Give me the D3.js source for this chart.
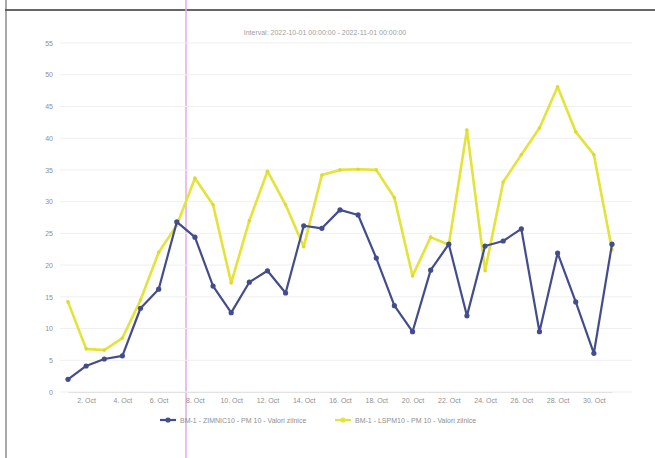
<!DOCTYPE html>
<html><head><meta charset="utf-8">
<script src="https://cdn.jsdelivr.net/npm/d3@7/dist/d3.min.js"></script>
<style>body{margin:0;background:#fff}svg{display:block}</style>
</head><body>
<script>
const days = d3.range(1, 32);
const seriesBlue = [2.0,4.1,5.2,5.7,13.2,16.2,26.8,24.4,16.7,12.5,17.3,19.1,15.6,26.2,25.8,28.7,27.9,21.1,13.6,9.5,19.2,23.3,12.0,23.0,23.8,25.7,9.5,21.9,14.2,6.1,23.3];
const seriesYellow = [14.2,6.8,6.6,8.5,14.5,22.0,26.3,33.7,29.5,17.2,27.0,34.8,29.5,22.9,34.2,35.0,35.1,35.0,30.6,18.3,24.4,23.2,41.3,19.1,33.1,37.4,41.6,48.1,41.0,37.4,22.4];
const yTicks = [0,5,10,15,20,25,30,35,40,45,50,55];
const xTickDays = [2,4,6,8,10,12,14,16,18,20,22,24,26,28,30];
const titleText = "Interval: 2022-10-01 00:00:00 - 2022-11-01 00:00:00";
const legendNames = ["BM-1 - ZIMNIC10 - PM 10 - Valori zilnice", "BM-1 - LSPM10 - PM 10 - Valori zilnice"];

const W = 655, H = 458;
const svg = d3.select("body").append("svg").attr("width", W).attr("height", H);

// scan frame and artefact line
svg.append("line").attr("x1",5).attr("x2",655).attr("y1",10).attr("y2",10).attr("stroke","#333").attr("stroke-width",1.5);
svg.append("line").attr("x1",6).attr("x2",6).attr("y1",0).attr("y2",458).attr("stroke","#555").attr("stroke-width",1);
svg.append("line").attr("x1",186).attr("x2",186).attr("y1",0).attr("y2",458).attr("stroke","#e6a8e6").attr("stroke-width",1.5);

const x = d3.scaleLinear().domain([1, 31]).range([68, 612]);
const y = d3.scaleLinear().domain([0, 55]).range([392, 43]);

// grid
svg.append("g").selectAll("line").data(yTicks).join("line")
  .attr("x1", 60).attr("x2", 632).attr("y1", d=>y(d)).attr("y2", d=>y(d))
  .attr("stroke", "#efefef").attr("stroke-width", 1);

// y axis labels
const yAxis = d3.axisLeft(y).tickValues(yTicks).tickSize(0).tickPadding(5);
const gy = svg.append("g").attr("transform","translate(58,0)").call(yAxis);
gy.select(".domain").remove();
gy.selectAll("text").attr("fill","#8f8f8f").style("font-family","Liberation Sans, Arial, sans-serif").style("font-size","7px");

// x axis
const xAxis = d3.axisBottom(x).tickValues(xTickDays).tickSize(0).tickPadding(6).tickFormat(d => d + ". Oct");
const gx = svg.append("g").attr("transform","translate(0,392)").call(xAxis);
gx.select(".domain").attr("stroke","#e2e2e2");
gx.selectAll("text").attr("fill","#8f8f8f").style("font-family","Liberation Sans, Arial, sans-serif").style("font-size","7px");

// title
svg.append("text").attr("x", 325).attr("y", 35).attr("text-anchor","middle")
  .attr("fill","#a0a0a0").style("font-family","Liberation Sans, Arial, sans-serif").style("font-size","7px").text(titleText);

const line = d3.line().x((d,i)=>x(days[i])).y(d=>y(d));

svg.append("path").datum(seriesYellow).attr("d", line).attr("fill","none")
  .attr("stroke","#e3e33a").attr("stroke-width",2.6).attr("stroke-linejoin","round");
svg.append("g").selectAll("circle").data(seriesYellow).join("circle")
  .attr("cx",(d,i)=>x(days[i])).attr("cy",d=>y(d)).attr("r",1.8).attr("fill","#dada30");

svg.append("path").datum(seriesBlue).attr("d", line).attr("fill","none")
  .attr("stroke","#434d8c").attr("stroke-width",2.2).attr("stroke-linejoin","round");
svg.append("g").selectAll("circle").data(seriesBlue).join("circle")
  .attr("cx",(d,i)=>x(days[i])).attr("cy",d=>y(d)).attr("r",2.6).attr("fill","#434d8c");

// legend
const lg = svg.append("g").attr("transform","translate(160,420)");
const colors = ["#434d8c","#e3e33a"];
const offs = [0, 175];
legendNames.forEach((n,i)=>{
  const g = lg.append("g").attr("transform",`translate(${offs[i]},0)`);
  g.append("line").attr("x1",0).attr("x2",16).attr("y1",0).attr("y2",0).attr("stroke",colors[i]).attr("stroke-width",2.2);
  g.append("circle").attr("cx",8).attr("cy",0).attr("r",2.6).attr("fill",colors[i]);
  g.append("text").attr("x",20).attr("y",2.5).attr("fill","#8f8f8f")
    .style("font-family","Liberation Sans, Arial, sans-serif").style("font-size","7px").text(n);
});
</script>
</body></html>
